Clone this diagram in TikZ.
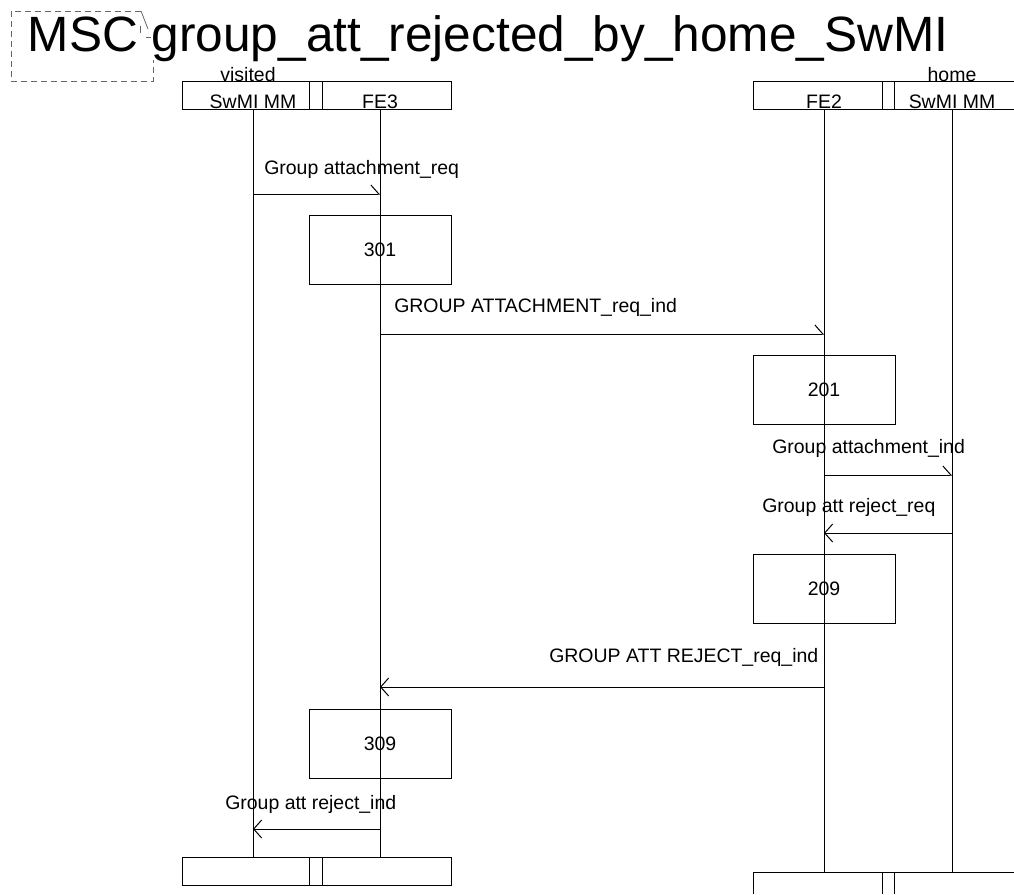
\documentclass[tikz,border=0pt]{standalone}
\usepackage{fontspec}
\setmainfont{Liberation Sans}
\usetikzlibrary{arrows.meta}
\tikzset{
  px/.style={x=0.75pt,y=-0.75pt},
  ln/.style={line width=0.75pt,black},
  msg/.style={ln,-{Straight Barb[length=6pt,width=13.5pt,line width=0.75pt]}},
  msgr/.style={ln,-{Straight Barb[left,length=6pt,width=13.5pt,line width=0.75pt]}},
  lbl/.style={anchor=base west,inner sep=0pt,font=\fontsize{14.6pt}{16pt}\selectfont},
  hdr/.style={anchor=base,inner sep=0pt,font=\fontsize{14.6pt}{16pt}\selectfont},
  actbox/.style={draw,ln,minimum width=106.5pt,minimum height=51.75pt,inner sep=0pt,font=\fontsize{14.6pt}{16pt}\selectfont},
  frame/.style={line width=0.75pt,gray!80!black,dash pattern=on 4.5pt off 3pt}
}
\begin{document}
\begin{tikzpicture}[px]
\useasboundingbox (0,0) rectangle (1014,894);
% title frame
\draw[frame] (141,11) -- (11,11) -- (11,81) -- (153,81) -- (153,60);
\draw[line width=0.6pt,gray!80!black] (141,11) -- (148,29);
\draw[line width=0.6pt,gray!80!black] (140,26) -- (140,33);
\draw[line width=0.6pt,gray!80!black] (146,37) -- (151,37);
\node[anchor=base west,inner sep=0pt,font=\fontsize{37.2pt}{40pt}\selectfont] (title) at (27.5,51) {MSC group\_att\_rejected\_by\_home\_SwMI};
% header boxes left
\draw[ln] (182,81) rectangle (451,109);
\draw[ln] (309,81) rectangle (322,109);
\node[hdr] (vis) at (248,81) {visited};
\node[hdr] (h1) at (253,108) {SwMI MM};
\node[hdr] (h2) at (380,108) {FE3};
% header boxes right
\draw[ln] (1014,81) -- (753,81) -- (753,109) -- (1014,109);
\draw[ln] (882,81) rectangle (894,109);
\node[hdr] (hom) at (952,81) {home};
\node[hdr] (h3) at (824,108) {FE2};
\node[hdr] (h4) at (952,108) {SwMI MM};
% footer boxes
\draw[ln] (182,857) rectangle (451,885);
\draw[ln] (309,857) rectangle (322,885);
\draw[ln] (753,894) -- (753,872) -- (1014,872);
\draw[ln] (882,894) -- (882,872) -- (894,872) -- (894,894);
% lifelines
\coordinate (L1t) at (253,109); \coordinate (L1b) at (253,857);
\coordinate (L2t) at (380,109); \coordinate (L2b) at (380,857);
\coordinate (L3t) at (824,109); \coordinate (L3b) at (824,872);
\coordinate (L4t) at (952,109); \coordinate (L4b) at (952,872);
\draw[ln] (L1t) -- (L1b);
\draw[ln] (L2t) -- (L2b);
\draw[ln] (L3t) -- (L3b);
\draw[ln] (L4t) -- (L4b);
% action boxes
\node[actbox] (b301) at (380,249.5) {301};
\node[actbox] (b201) at (824,390) {201};
\node[actbox] (b209) at (824,589) {209};
\node[actbox] (b309) at (380,744) {309};
% messages
\coordinate (m1a) at (253,194); \coordinate (m1b) at (380,194);
\draw[msgr] (m1a) -- (m1b);
\node[lbl] (t1) at (264,174) {Group attachment\_req};
\coordinate (m2a) at (380,334); \coordinate (m2b) at (824,334);
\draw[msgr] (m2a) -- (m2b);
\node[lbl] (t2) at (394,312) {GROUP ATTACHMENT\_req\_ind};
\coordinate (m3a) at (824,475); \coordinate (m3b) at (952,475);
\draw[msgr] (m3a) -- (m3b);
\node[lbl] (t3) at (772,453) {Group attachment\_ind};
\coordinate (m4a) at (952,533); \coordinate (m4b) at (824,533);
\draw[msg] (m4a) -- (m4b);
\node[lbl] (t4) at (762,512) {Group att reject\_req};
\coordinate (m5a) at (824,687); \coordinate (m5b) at (380,687);
\draw[msg] (m5a) -- (m5b);
\node[lbl] (t5) at (549,662) {GROUP ATT REJECT\_req\_ind};
\coordinate (m6a) at (380,829); \coordinate (m6b) at (253,829);
\draw[msg] (m6a) -- (m6b);
\node[lbl] (t6) at (225,809) {Group att reject\_ind};
\end{tikzpicture}
\end{document}
